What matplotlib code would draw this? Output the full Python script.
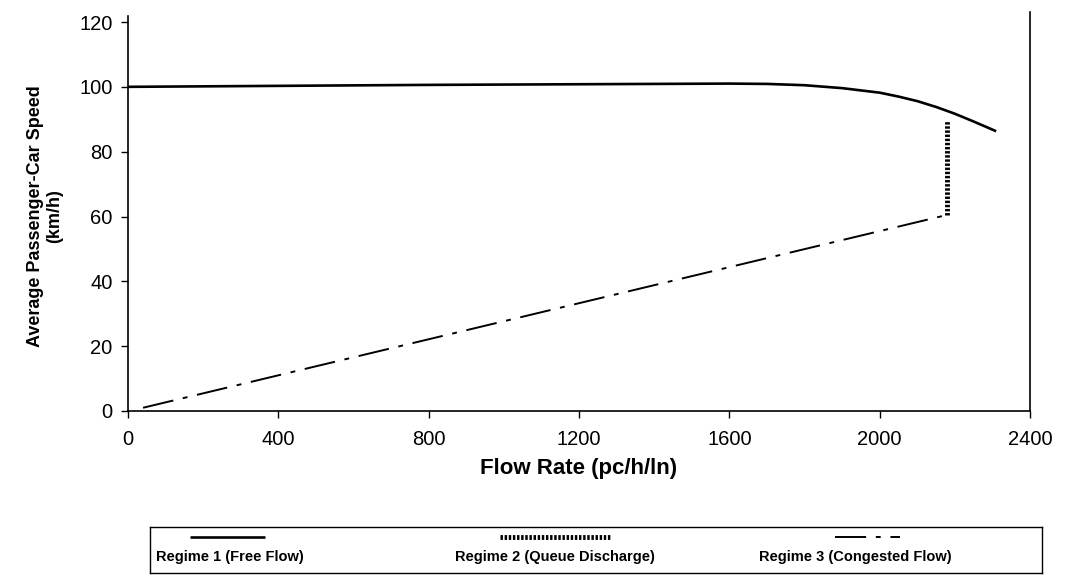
import numpy as np
import matplotlib.pyplot as plt

# 读图得到的数据点
flow_free = [0, 400, 800, 1200, 1600, 1700, 1800, 1900, 2000, 2050, 2100, 2150, 2200, 2250, 2310]
speed_free = [100, 100.3, 100.6, 100.8, 101, 100.9, 100.5, 99.6, 98.2, 97.0, 95.6, 93.8, 91.7, 89.3, 86.3]

flow_queue = [2180, 2180]
speed_queue = [60.5, 89.5]

flow_cong = [40, 2180]
speed_cong = [1, 60.5]

x_ticks = [0, 400, 800, 1200, 1600, 2000, 2400]
y_ticks = [0, 20, 40, 60, 80, 100, 120]
legend_names = ['Regime 1 (Free Flow)', 'Regime 2 (Queue Discharge)', 'Regime 3 (Congested Flow)']

plt.rcParams['font.family'] = ['Liberation Sans', 'DejaVu Sans']

fig = plt.figure(figsize=(10.68, 5.76), dpi=100)
ax = fig.add_axes([128 / 1068, 1 - 411 / 576, 902 / 1068, 389 / 576])

style1 = dict(color='black', lw=1.9, solid_capstyle='butt')
style2 = dict(color='black', lw=3.5, dashes=(0.5, 0.35))
style3 = dict(color='black', lw=1.4, dashes=(16, 5, 2.5, 5))

ax.plot(flow_free, speed_free, **style1)
ax.plot(flow_queue, speed_queue, **style2)
ax.plot(flow_cong, speed_cong, **style3)

ax.set_xlim(0, 2400)
ax.set_ylim(0, 120)
ax.set_xticks(x_ticks)
ax.set_yticks(y_ticks)
ax.tick_params(axis='both', labelsize=14.5, direction='out', length=5, width=1)
ax.tick_params(axis='x', pad=9)
ax.tick_params(axis='y', pad=6)
ax.spines['top'].set_visible(False)
for s in ['left', 'right', 'bottom']:
    ax.spines[s].set_linewidth(1.2)
ax.spines['left'].set_bounds(0, 122)
ax.spines['right'].set_bounds(0, 123)

ax.set_xlabel('Flow Rate (pc/h/ln)', fontsize=16, fontweight='bold', labelpad=6)
ax.set_ylabel('Average Passenger-Car Speed\n(km/h)', fontsize=13, fontweight='bold', labelpad=12,
              linespacing=1.1)

# 图例框：线样在文字上方
leg = fig.add_axes([150 / 1068, 3 / 576, 892 / 1068, 46 / 576])
leg.set_xlim(150, 1042)
leg.set_ylim(46, 0)
leg.set_xticks([])
leg.set_yticks([])
for s in leg.spines.values():
    s.set_linewidth(1)

samples = [([190, 265], style1), ([500, 610], style2), ([835, 900], style3)]
centers = [230, 555, 855]
for (xs, st), cx, name in zip(samples, centers, legend_names):
    leg.plot(xs, [10, 10], **st)
    leg.text(cx, 30, name, ha='center', va='center', fontsize=10.5, fontweight='bold')

fig.savefig('out.png', dpi=100)
